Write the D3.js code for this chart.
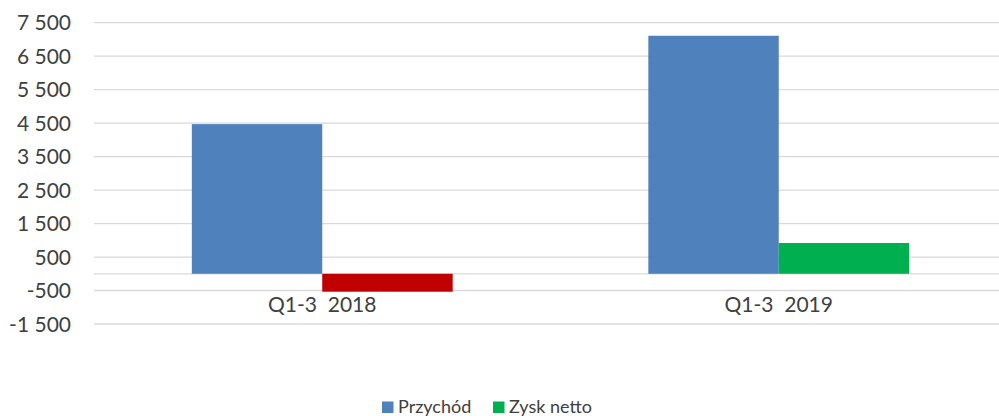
<!DOCTYPE html>
<html>
<head>
<meta charset="utf-8">
<script src="https://cdn.jsdelivr.net/npm/d3@7"></script>
<style>
  body { margin: 0; background: #fff; }
  svg { display: block; font-family: Lato, "Open Sans", sans-serif; }
</style>
</head>
<body>
<svg></svg>
<script>
const categories = ["Q1-3  2018", "Q1-3  2019"];
const seriesNames = ["Przychód", "Zysk netto"];
const przychod = [4470, 7110];
const zyskNetto = [-535, 920];
const yTicks = [-1500, -500, 500, 1500, 2500, 3500, 4500, 5500, 6500, 7500];

const width = 999;
const height = 416;
const colors = { "Przychód": "#4f81bd", "Zysk netto": "#00b050", negative: "#c00000" };
const textColor = "#404040";

const svg = d3.select("svg")
  .attr("width", width)
  .attr("height", height);

const locale = d3.formatLocale({ decimal: ",", thousands: " ", grouping: [3], currency: ["", ""], minus: "-" });
const fmt = locale.format(",");

const y = d3.scaleLinear()
  .domain([-1500, 7500])
  .range([324, 22.7]);

const x0 = d3.scaleBand()
  .domain(categories)
  .range([94, 1007]);

const x1 = d3.scaleBand()
  .domain(seriesNames)
  .range([0, x0.bandwidth()])
  .paddingOuter(0.75);

// gridlines, plus the zero line
const grid = svg.append("g");
grid.selectAll("line")
  .data(yTicks.concat([0]))
  .enter().append("line")
  .attr("x1", 94)
  .attr("x2", width)
  .attr("y1", d => y(d))
  .attr("y2", d => y(d))
  .attr("stroke", "#d9d9d9")
  .attr("stroke-width", 1.3);

// y labels
svg.append("g").selectAll("text")
  .data(yTicks)
  .enter().append("text")
  .attr("x", 71)
  .attr("y", d => y(d))
  .attr("dy", "0.36em")
  .attr("text-anchor", "end")
  .attr("font-size", 21)
  .attr("fill", textColor)
  .text(d => fmt(d));

// bars
const rows = categories.map((c, i) => ({ cat: c, values: [
  { name: seriesNames[0], value: przychod[i] },
  { name: seriesNames[1], value: zyskNetto[i] }
]}));

const groups = svg.append("g").selectAll("g")
  .data(rows)
  .enter().append("g")
  .attr("transform", d => `translate(${x0(d.cat)},0)`);

groups.selectAll("rect")
  .data(d => d.values)
  .enter().append("rect")
  .attr("x", d => x1(d.name))
  .attr("width", x1.bandwidth())
  .attr("y", d => y(Math.max(0, d.value)))
  .attr("height", d => Math.abs(y(d.value) - y(0)))
  .attr("fill", d => d.value < 0 ? colors.negative : colors[d.name]);

// category labels
svg.append("g").selectAll("text")
  .data(categories)
  .enter().append("text")
  .attr("x", d => x0(d) + x0.bandwidth() / 2)
  .attr("y", 312)
  .attr("text-anchor", "middle")
  .attr("font-size", 21)
  .attr("fill", textColor)
  .style("white-space", "pre")
  .text(d => d);

// legend
const legendX = [382, 493];
const legend = svg.append("g").selectAll("g")
  .data(seriesNames)
  .enter().append("g")
  .attr("transform", (d, i) => `translate(${legendX[i]},401.5)`);

legend.append("rect")
  .attr("width", 11.5)
  .attr("height", 11.5)
  .attr("fill", d => colors[d]);

legend.append("text")
  .attr("x", 16)
  .attr("y", 11.5)
  .attr("font-size", 18)
  .attr("fill", textColor)
  .text(d => d);
</script>
</body>
</html>
